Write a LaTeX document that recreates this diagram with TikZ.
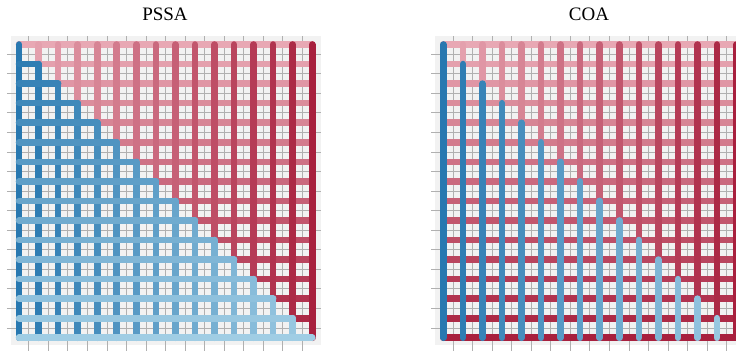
\documentclass[tikz,border=0pt]{standalone}
\usepackage{fontspec}
\setmainfont{Liberation Serif}

\definecolor{panelgray}{RGB}{242,242,242}
\definecolor{gridgray}{RGB}{176,176,176}
\definecolor{bluedark}{RGB}{40,120,176}
\definecolor{bluelight}{RGB}{160,205,228}
\definecolor{redlight}{RGB}{232,168,180}
\definecolor{reddark}{RGB}{168,32,62}

\begin{document}
\begin{tikzpicture}[x=1pt,y=-1pt,
    panel/.style={fill=panelgray},
    gridline/.style={draw=gridgray,line width=0.9pt},
    lattice/.style={line width=6.6pt,line cap=round},
    title/.style={font=\fontsize{19}{21}\selectfont,anchor=base}]
    \useasboundingbox (0,0) rectangle (736,351);
    \clip (0,0) rectangle (736,351);

    % Titles
    \node[title] (pssa) at (165,20) {PSSA};
    \node[title] (coa) at (589,20) {COA};

    % Left panel
    \begin{scope}[shift={(19,44.5)},x=19.55pt,y=-19.55pt]
        \fill[panel] (-0.41,-0.41) rectangle (15.43,15.38);
        \foreach \k in {0,...,14} {
            \draw[gridline] (\k+0.5,-0.41) -- (\k+0.5,15.7);
            \draw[gridline] (-0.62,\k+0.5) -- (15.43,\k+0.5);
        }
        % red part
        \foreach \k in {0,...,14} {
            \pgfmathtruncatemacro\p{100*\k/15}
            \draw[lattice,reddark!\p!redlight] (\k,\k) -- (15,\k);
        }
        \foreach \k in {1,...,15} {
            \pgfmathtruncatemacro\p{100*\k/15}
            \draw[lattice,reddark!\p!redlight] (\k,0) -- (\k,\k);
        }
        % blue part
        \foreach \k in {0,...,14} {
            \pgfmathtruncatemacro\p{100*\k/15}
            \draw[lattice,bluelight!\p!bluedark] (\k,\k) -- (\k,15);
        }
        \foreach \k in {1,...,15} {
            \pgfmathtruncatemacro\p{100*\k/15}
            \draw[lattice,bluelight!\p!bluedark] (0,\k) -- (\k,\k);
        }
    \end{scope}

    % Right panel
    \begin{scope}[shift={(443.3,44.5)},x=19.55pt,y=-19.55pt]
        \fill[panel] (-0.41,-0.41) rectangle (15.43,15.38);
        \foreach \k in {0,...,14} {
            \draw[gridline] (\k+0.5,-0.41) -- (\k+0.5,15.7);
            \draw[gridline] (-0.62,\k+0.5) -- (15.43,\k+0.5);
        }
        % red part
        \foreach \k in {0,...,15} {
            \pgfmathtruncatemacro\p{100*\k/15}
            \draw[lattice,reddark!\p!redlight] (0,\k) -- (15,\k);
        }
        \foreach \k in {1,...,15} {
            \pgfmathtruncatemacro\p{100*\k/15}
            \draw[lattice,reddark!\p!redlight] (\k,0) -- (\k,\k);
        }
        % blue part
        \foreach \k in {0,...,14} {
            \pgfmathtruncatemacro\p{100*\k/15}
            \draw[lattice,bluelight!\p!bluedark] (\k,\k) -- (\k,15);
        }
    \end{scope}
\end{tikzpicture}
\end{document}
